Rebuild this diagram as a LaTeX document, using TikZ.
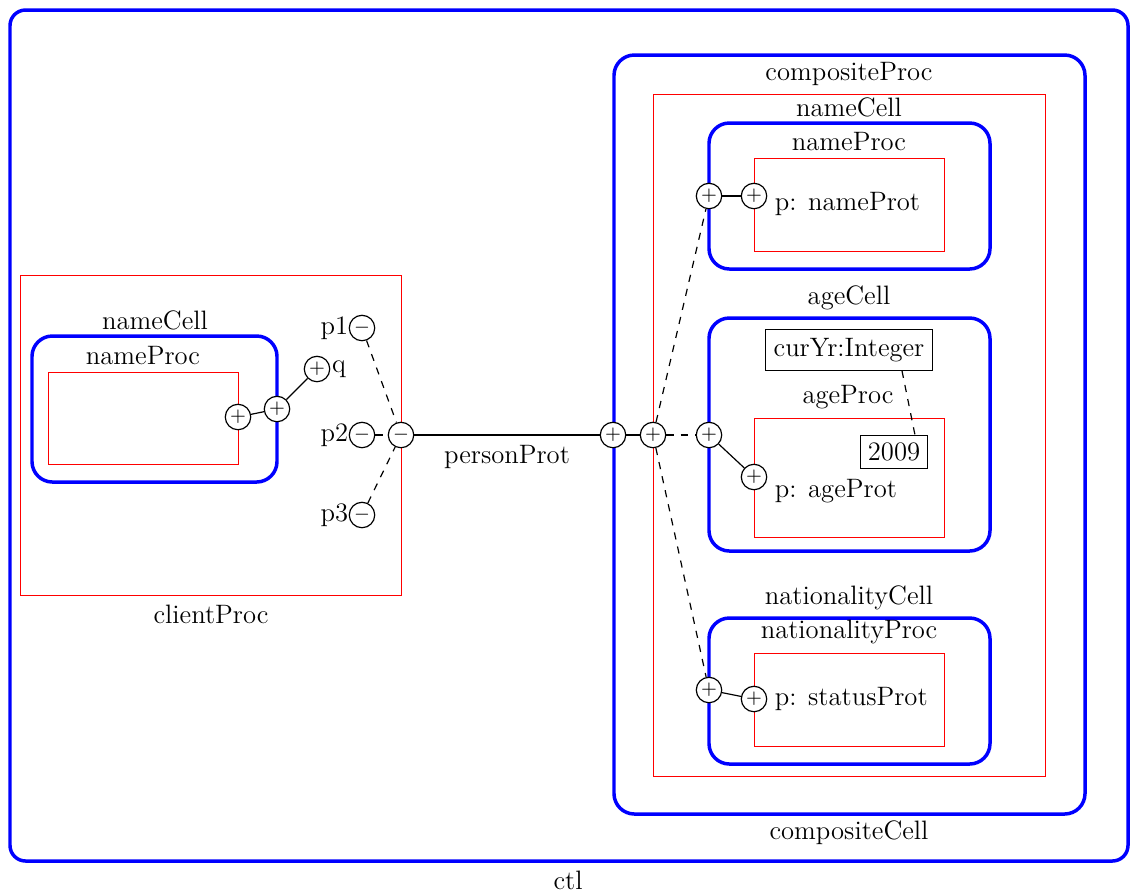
\documentclass[tikz,border=0pt]{standalone}
\begin{document}
\begin{tikzpicture}[x=0.4167pt,y=-0.4167pt,
  every node/.style={font=\fontsize{11.1}{13.3}\selectfont},
  cell/.style={draw=blue, line width=1.45pt, rounded corners=8.5pt},
  proc/.style={draw=red, line width=0.4pt},
  port/.style={circle, draw, line width=0.5pt, inner sep=0pt, minimum size=10.6pt, font=\fontsize{7.6}{9}\selectfont, fill=white},
  valbox/.style={draw, line width=0.5pt, inner sep=3.5pt},
  lbl/.style={inner sep=1pt},
  wire/.style={line width=0.5pt},
  link/.style={wire, dashed}]
\useasboundingbox (0,0) rectangle (1135,895);

% outermost cell
\draw[cell, rounded corners=6.5pt] (10,10) rectangle (1128,861);
\node[lbl] (ctl) at (568,880) {ctl};

% client side
\draw[proc] (20,275) rectangle (401,595);
\node[lbl] (clientProc) at (211,614) {clientProc};
\draw[cell] (32,336) rectangle (277,482);
\node[lbl] (cNameCell) at (155,320) {nameCell};
\draw[proc] (48,372) rectangle (238,464);
\node[lbl] (cNameProc) at (143,356) {nameProc};

\node[port] (cIn) at (238,417) {$+$};
\node[port] (cCell) at (277,409) {$+$};
\node[port] (q) at (317,369) {$+$};
\node[lbl, anchor=west, inner sep=0.5pt] (qL) at (q.east) {q};
\node[port] (p1) at (362,328) {$-$};
\node[lbl, anchor=east, inner sep=0pt] (p1L) at (p1.west) {p1};
\node[port] (p2) at (362,435) {$-$};
\node[lbl, anchor=east, inner sep=0pt] (p2L) at (p2.west) {p2};
\node[port] (p3) at (362,515) {$-$};
\node[lbl, anchor=east, inner sep=0pt] (p3L) at (p3.west) {p3};
\node[port] (cOut) at (401,435) {$-$};

\draw[wire] (cIn) -- (cCell);
\draw[wire] (cCell) -- (q);
\draw[link] (p1) -- (cOut);
\draw[link] (p2) -- (cOut);
\draw[link] (p3) -- (cOut);

% composite side
\draw[cell] (614,55) rectangle (1085,814);
\node[lbl] (compProc) at (849,74) {compositeProc};
\node[lbl] (compCell) at (849,833) {compositeCell};
\draw[proc] (653,94) rectangle (1045,776);
\node[lbl] (iNameCell) at (849,107) {nameCell};

% nameProc
\draw[cell] (709,123) rectangle (990,269);
\node[lbl] (nameProcL) at (849,142) {nameProc};
\draw[proc] (754,158) rectangle (944,251);
\node[port] (nOut) at (709,196) {$+$};
\node[port] (nIn) at (754,196) {$+$};
\node[lbl, anchor=west] (nameProt) at (772,204) {p: nameProt};

% ageCell
\node[lbl] (ageCellL) at (849,298) {ageCell};
\draw[cell] (709,318) rectangle (990,551);
\node[valbox] (curYr) at (849,350) {curYr:Integer};
\node[lbl] (ageProcL) at (848,397) {ageProc};
\draw[proc] (754,418) rectangle (944,537);
\node[valbox, inner sep=3pt] (year) at (894,452) {2009};
\node[port] (aOut) at (709,435) {$+$};
\node[port] (aIn) at (754,477) {$+$};
\node[lbl, anchor=west] (ageProt) at (772,491) {p: ageProt};

% nationalityCell
\node[lbl] (natCellL) at (849,598) {nationalityCell};
\draw[cell] (709,618) rectangle (990,764);
\node[lbl] (natProcL) at (849,632) {nationalityProc};
\draw[proc] (754,653) rectangle (944,746);
\node[port] (sOut) at (709,690) {$+$};
\node[port] (sIn) at (754,699) {$+$};
\node[lbl, anchor=west] (statusProt) at (772,699) {p: statusProt};

% composite ports
\node[port] (compIn) at (613,435) {$+$};
\node[port] (cellIn) at (653,435) {$+$};

% connectors
\draw[wire] (cOut) -- node[lbl, below=3pt] (personProt) {personProt} (compIn);
\draw[wire] (compIn) -- (cellIn);
\draw[link] (cellIn) -- (nOut);
\draw[link] (cellIn) -- (aOut);
\draw[link] (cellIn) -- (sOut);
\draw[wire] (nOut) -- (nIn);
\draw[wire] (aOut) -- (aIn);
\draw[wire] (sOut) -- (sIn);
\draw[link] (curYr.south -| 902,0) -- (year.north -| 915,0);
\end{tikzpicture}
\end{document}
